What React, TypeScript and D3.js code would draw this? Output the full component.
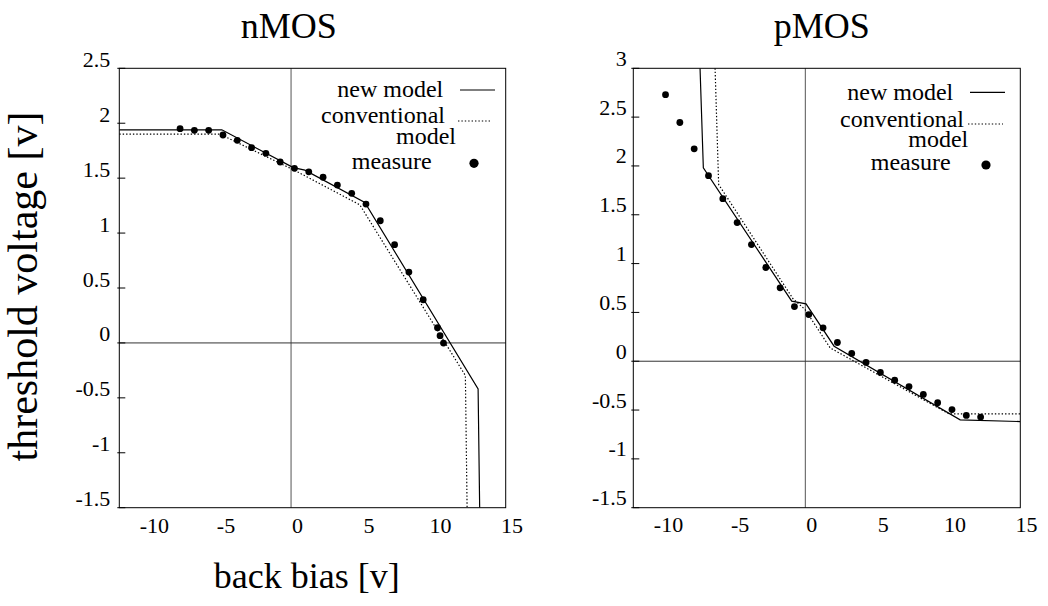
import React from 'react';
import * as d3 from 'd3';

// ---------- data ----------
const xTicks = [-10, -5, 0, 5, 10, 15];
const nmosYTicks = [-1.5, -1, -0.5, 0, 0.5, 1, 1.5, 2, 2.5];
const pmosYTicks = [-1.5, -1, -0.5, 0, 0.5, 1, 1.5, 2, 2.5, 3];
const legendLabels = ['new model', 'conventional', 'model', 'measure'];
const titles = ['nMOS', 'pMOS'];
const xAxisTitle = 'back bias [v]';
const yAxisTitle = 'threshold voltage [v]';

const nmosMeasureX = [-8, -7, -6, -5, -4, -3, -2, -1, 0, 1, 2, 3, 4, 5, 6, 7, 8, 9, 10, 10.18, 10.42];
const nmosMeasureY = [1.95, 1.935, 1.935, 1.893, 1.844, 1.777, 1.726, 1.647, 1.589, 1.558, 1.508, 1.437, 1.362, 1.264, 1.112, 0.894, 0.645, 0.393, 0.138, 0.066, -0.001];
const nmosNewX = [-12.25, -5.08, -0.08, 0.73, 4.92, 12.84, 12.95];
const nmosNewY = [1.94, 1.94, 1.596, 1.573, 1.278, -0.418, -1.5];
const nmosConvX = [-12.25, -5.2, 0.1, 4.57, 11.95, 12.07];
const nmosConvY = [1.9, 1.9, 1.565, 1.257, -0.297, -1.5];

const pmosMeasureX = [-10, -9, -8, -7, -6, -5, -4, -3, -2, -1, 0, 1, 2, 3, 4, 5, 6, 7, 8, 9, 10, 11, 12];
const pmosMeasureY = [2.73, 2.445, 2.175, 1.9, 1.665, 1.42, 1.195, 0.96, 0.752, 0.56, 0.478, 0.342, 0.192, 0.08, -0.012, -0.115, -0.195, -0.26, -0.34, -0.425, -0.495, -0.555, -0.572];
const pmosNewX = [-7.59, -7.36, -1.19, -0.19, 1.77, 10.57, 14.77];
const pmosNewY = [3, 1.98, 0.615, 0.587, 0.154, -0.6, -0.618];
const pmosConvX = [-6.54, -6.29, -1.1, -0.26, 1.49, 9.8, 14.77];
const pmosConvY = [3, 1.81, 0.64, 0.53, 0.137, -0.54, -0.54];

const xDomain: [number, number] = [-12.25, 14.77];
const axisCross = -0.24;

const FONT = '"Liberation Serif", "Times New Roman", serif';

type PanelProps = {
  left: number; right: number; top: number; bottom: number;
  yDomain: [number, number]; yTicks: number[];
  mX: number[]; mY: number[]; nX: number[]; nY: number[]; cX: number[]; cY: number[];
  yLabelGap: number; yLabelDy: number; xLabelY: number;
  leg: { nm: [number, number]; cv: [number, number]; md: [number, number]; ms: [number, number];
    l1: [number, number, number]; l2: [number, number, number]; dot: [number, number] };
  title: string; titleX: number;
};

function Panel(p: PanelProps) {
  const x = d3.scaleLinear().domain(xDomain).range([p.left, p.right]);
  const y = d3.scaleLinear().domain(p.yDomain).range([p.bottom, p.top]);
  const line = d3.line<[number, number]>().x(d => x(d[0])).y(d => y(d[1]));
  const newPts = p.nX.map((v, i) => [v, p.nY[i]] as [number, number]);
  const convPts = p.cX.map((v, i) => [v, p.cY[i]] as [number, number]);
  const R = p.right, T = p.top;
  const id = 'clip' + p.title;
  return (
    <g>
      <defs>
        <clipPath id={id}>
          <rect x={p.left} y={p.top} width={p.right - p.left} height={p.bottom - p.top} />
        </clipPath>
      </defs>
      <text x={p.titleX} y={38} fontSize={36} textAnchor="middle" fontFamily={FONT}>{p.title}</text>
      {/* zero lines */}
      <line x1={x(axisCross)} x2={x(axisCross)} y1={p.top} y2={p.bottom} stroke="#555" strokeWidth={1} />
      <line x1={p.left} x2={p.right} y1={y(0)} y2={y(0)} stroke="#333" strokeWidth={1} />
      {/* frame */}
      <rect x={p.left} y={p.top} width={p.right - p.left} height={p.bottom - p.top} fill="none" stroke="#000" strokeWidth={1} />
      {/* y ticks */}
      {p.yTicks.map(t => (
        <g key={t}>
          <line x1={p.left - 2} x2={p.left + 6} y1={y(t)} y2={y(t)} stroke="#000" strokeWidth={1} />
          <text x={p.left - p.yLabelGap} y={y(t) + p.yLabelDy} fontSize={22} textAnchor="end" fontFamily={FONT}>{String(t)}</text>
        </g>
      ))}
      {/* x tick labels */}
      {xTicks.map(t => (
        <text key={t} x={x(t) + 3} y={p.xLabelY} fontSize={22} textAnchor="middle" fontFamily={FONT}>{String(t)}</text>
      ))}
      <g clipPath={`url(#${id})`}>
        <path d={line(convPts) || ''} fill="none" stroke="#000" strokeWidth={1.2} strokeDasharray="1.4 2" />
        <path d={line(newPts) || ''} fill="none" stroke="#000" strokeWidth={1.2} />
        {p.mX.map((v, i) => (
          <circle key={i} cx={x(v)} cy={y(p.mY[i])} r={3.4} fill="#000" />
        ))}
      </g>
      {/* legend */}
      <g fontFamily={FONT} fontSize={24} textAnchor="end">
        <text x={R + p.leg.nm[0]} y={T + p.leg.nm[1]}>{legendLabels[0]}</text>
        <line x1={R + p.leg.l1[0]} x2={R + p.leg.l1[1]} y1={T + p.leg.l1[2]} y2={T + p.leg.l1[2]} stroke="#000" strokeWidth={1.2} />
        <text x={R + p.leg.cv[0]} y={T + p.leg.cv[1]}>{legendLabels[1]}</text>
        <line x1={R + p.leg.l2[0]} x2={R + p.leg.l2[1]} y1={T + p.leg.l2[2]} y2={T + p.leg.l2[2]} stroke="#000" strokeWidth={1.2} strokeDasharray="1.4 2" />
        <text x={R + p.leg.md[0]} y={T + p.leg.md[1]}>{legendLabels[2]}</text>
        <text x={R + p.leg.ms[0]} y={T + p.leg.ms[1]}>{legendLabels[3]}</text>
        <circle cx={R + p.leg.dot[0]} cy={T + p.leg.dot[1]} r={4.6} fill="#000" />
      </g>
    </g>
  );
}

export default function App() {
  return (
    <svg width={1048} height={606} style={{ position: 'absolute', left: 0, top: 0, background: '#fff' }}>
      <rect x={0} y={0} width={1048} height={606} fill="#fff" />
      <Panel
        left={119.3} right={505.7} top={68.3} bottom={507.7}
        yDomain={[-1.5, 2.5]} yTicks={nmosYTicks}
        mX={nmosMeasureX} mY={nmosMeasureY} nX={nmosNewX} nY={nmosNewY} cX={nmosConvX} cY={nmosConvY}
        yLabelGap={9} yLabelDy={-1.5} xLabelY={533}
        leg={{ nm: [-62.4, 29], cv: [-60.7, 54.7], md: [-49.7, 75.7], ms: [-74, 100.7],
          l1: [-45.7, -10.7, 21.7], l2: [-47.7, -13.7, 52.7], dot: [-31.7, 95] }}
        title={titles[0]} titleX={288.7}
      />
      <Panel
        left={633.3} right={1020.3} top={68.3} bottom={507.7}
        yDomain={[-1.5, 3]} yTicks={pmosYTicks}
        mX={pmosMeasureX} mY={pmosMeasureY} nX={pmosNewX} nY={pmosNewY} cX={pmosConvX} cY={pmosConvY}
        yLabelGap={6.5} yLabelDy={-2.5} xLabelY={532}
        leg={{ nm: [-67, 31.7], cv: [-56.3, 58.4], md: [-52, 78.4], ms: [-69.6, 101.7],
          l1: [-50.3, -15.3, 24], l2: [-52.3, -17.3, 55.7], dot: [-34.3, 96.7] }}
        title={titles[1]} titleX={821.7}
      />
      <text x={306.7} y={588} fontSize={36} textAnchor="middle" fontFamily={FONT}>{xAxisTitle}</text>
      <text transform="translate(37,286.5) rotate(-90)" fontSize={42} textAnchor="middle" fontFamily={FONT}>{yAxisTitle}</text>
    </svg>
  );
}
